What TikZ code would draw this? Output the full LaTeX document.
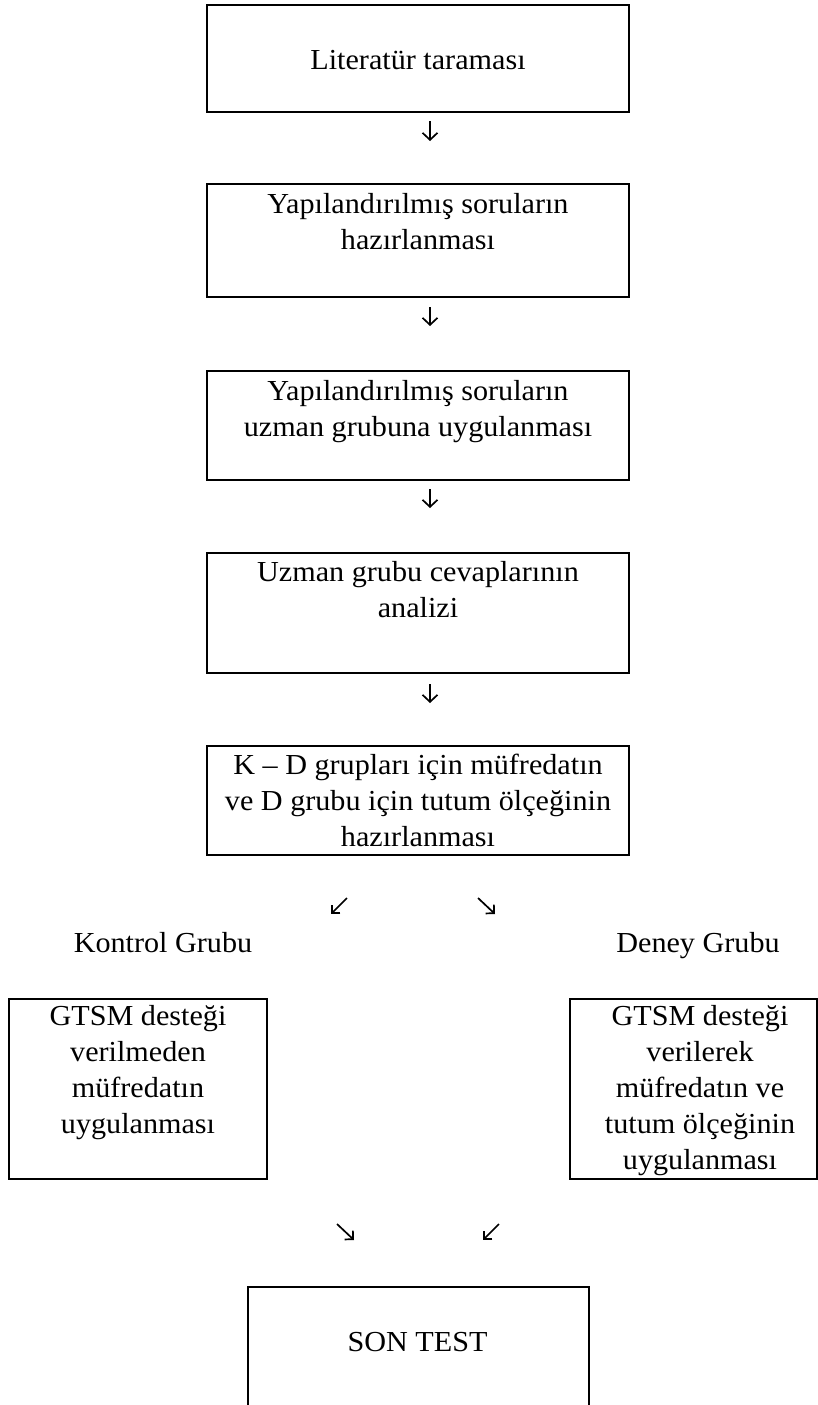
\documentclass[tikz,border=0pt]{standalone}
\usepackage{fontspec}
\setmainfont[FakeStretch=1.04]{Liberation Serif}
\usetikzlibrary{arrows.meta}
\tikzset{
  box/.style={draw, line width=2.2pt, rectangle, inner sep=0pt},
  lbl/.style={inner sep=0pt, anchor=base, font=\fontsize{29}{36}\selectfont},
  arr/.style={-{Straight Barb[length=7pt,width=15pt]}, line width=1.7pt},
  darr/.style={-{Straight Barb[length=6pt,width=12pt]}, line width=1.7pt}
}
\newcommand{\ml}[1]{\begin{tabular}[t]{@{}c@{}}#1\end{tabular}}
\begin{document}
\begin{tikzpicture}[x=1pt,y=-1pt]
\clip (0,0) rectangle (818,1405);
\fill[white] (0,0) rectangle (818,1405);
% boxes
\node[box, minimum width=422pt, minimum height=107pt] (b1) at (418,58.5) {};
\node[lbl] (t1) at (418,69.5) {Literatür taraması};
\node[box, minimum width=422pt, minimum height=113pt] (b2) at (418,240.5) {};
\node[lbl] (t2) at (418,213.3) {\ml{Yapılandırılmış soruların\\hazırlanması}};
\node[box, minimum width=422pt, minimum height=109.3pt] (b3) at (418,425.35) {};
\node[lbl] (t3) at (418,400) {\ml{Yapılandırılmış soruların\\uzman grubuna uygulanması}};
\node[box, minimum width=422pt, minimum height=120pt] (b4) at (418,613) {};
\node[lbl] (t4) at (418,581.7) {\ml{Uzman grubu cevaplarının\\analizi}};
\node[box, minimum width=422pt, minimum height=109.3pt] (b5) at (418,800.35) {};
\node[lbl] (t5) at (418,774.3) {\ml{K – D grupları için müfredatın\\ve D grubu için tutum ölçeğinin\\hazırlanması}};
% group labels
\node[lbl] (kg) at (163,952.7) {Kontrol Grubu};
\node[lbl] (dg) at (698,952.7) {Deney Grubu};
% side boxes
\node[box, minimum width=257.4pt, minimum height=180pt] (bl) at (138,1089) {};
\node[lbl] (tl) at (138,1025) {\ml{GTSM desteği\\verilmeden\\müfredatın\\uygulanması}};
\node[box, minimum width=247pt, minimum height=180pt] (br) at (693.5,1089) {};
\node[lbl] (tr) at (700,1025) {\ml{GTSM desteği\\verilerek\\müfredatın ve\\tutum ölçeğinin\\uygulanması}};
% final box
\node[box, minimum width=341pt, minimum height=133pt] (bs) at (418.5,1353.5) {};
\node[lbl] (ts) at (417.5,1351.7) {SON TEST};
% arrows
\coordinate (a1s) at (430,121);   \coordinate (a1e) at (430,141);
\coordinate (a2s) at (430,307);   \coordinate (a2e) at (430,326);
\coordinate (a3s) at (430,489);   \coordinate (a3e) at (430,508);
\coordinate (a4s) at (430,684);   \coordinate (a4e) at (430,703);
\draw[arr] (a1s) -- (a1e);
\draw[arr] (a2s) -- (a2e);
\draw[arr] (a3s) -- (a3e);
\draw[arr] (a4s) -- (a4e);
\coordinate (d1s) at (347,898);  \coordinate (d1e) at (331,914);
\coordinate (d2s) at (478,898);  \coordinate (d2e) at (495,914);
\draw[darr] (d1s) -- (d1e);
\draw[darr] (d2s) -- (d2e);
\coordinate (e1s) at (337,1224); \coordinate (e1e) at (354,1240);
\coordinate (e2s) at (499,1224); \coordinate (e2e) at (483,1240);
\draw[darr] (e1s) -- (e1e);
\draw[darr] (e2s) -- (e2e);
\end{tikzpicture}
\end{document}
